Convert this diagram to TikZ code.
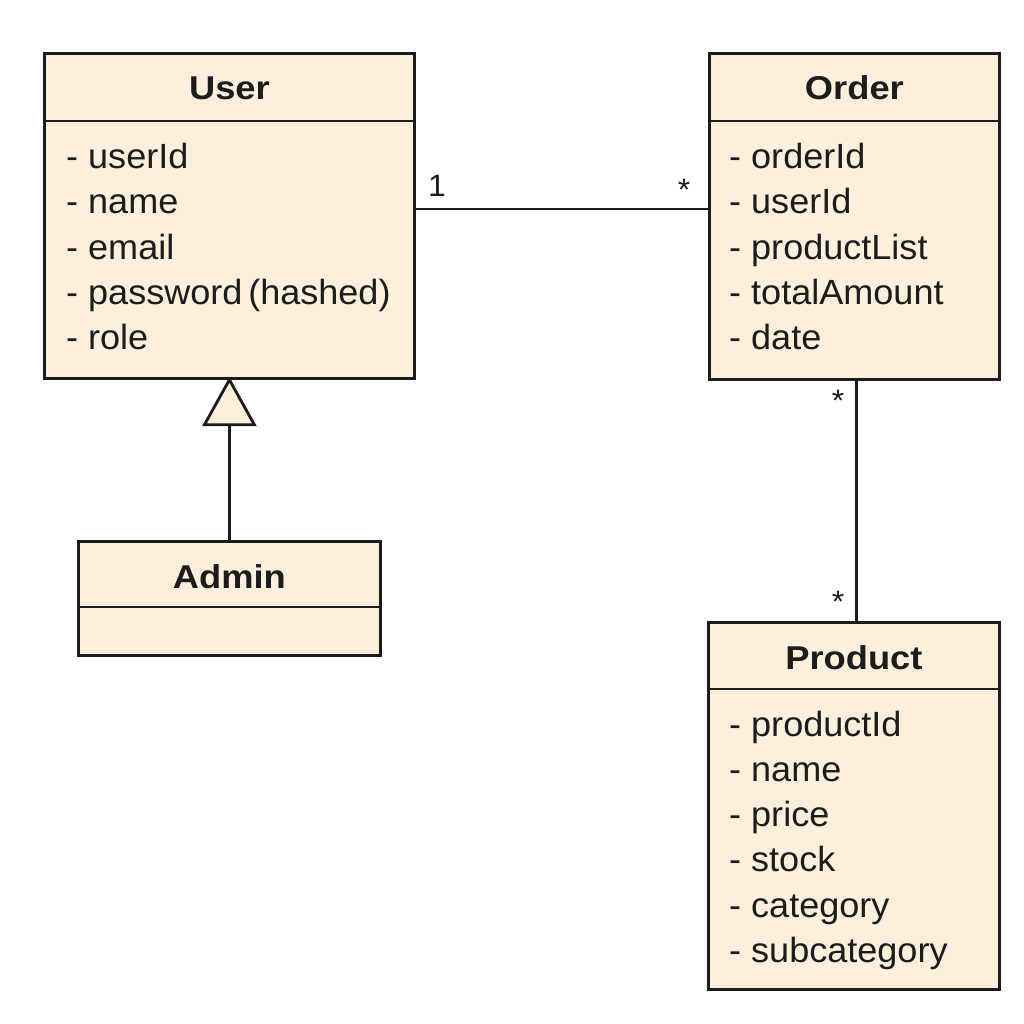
\documentclass[tikz,border=0pt]{standalone}
\usepackage{fontspec}
\setmainfont{Liberation Sans}[FakeStretch=1.03]
\newfontfamily\hdrfont{Liberation Sans}[FakeStretch=1.1]
\usetikzlibrary{calc}
\definecolor{cream}{HTML}{FCEFDC}
\definecolor{ink}{HTML}{1C1C1C}
\begin{document}
\begin{tikzpicture}[x=1pt,y=-1pt,
  umlbox/.style={draw=ink, line width=2.8pt, fill=cream, anchor=north west, inner sep=0pt},
  sepline/.style={draw=ink, line width=2.8pt},
  conn/.style={draw=ink, line width=2.8pt},
  hdr/.style={anchor=base, inner sep=0pt, text=ink, font=\hdrfont\bfseries\fontsize{33}{40}\selectfont},
  attr/.style={anchor=base west, inner sep=0pt, text=ink, font=\fontsize{35}{42}\selectfont},
  mult/.style={inner sep=0pt, text=ink, font=\fontsize{31}{36}\selectfont}]
\useasboundingbox[fill=white] (0,0) rectangle (1024,1024);

% User
\node[umlbox, minimum width=370pt, minimum height=325pt] (user) at (43,52) {};
\draw[sepline] ($(user.north west)+(0,69)$) -- ($(user.north east)+(0,69)$);
\node[hdr] (userh) at ($(user.north)+(0,48)$) {User};
\node[attr] (u1) at (66,169) {- userId};
\node[attr] (u2) at (66,214) {- name};
\node[attr] (u3) at (66,259) {- email};
\node[attr] (u4) at (66,304) {- password\,(hashed)};
\node[attr] (u5) at (66,349) {- role};

% Order
\node[umlbox, minimum width=290pt, minimum height=326pt] (order) at (708,52) {};
\draw[sepline] ($(order.north west)+(0,69)$) -- ($(order.north east)+(0,69)$);
\node[hdr] (orderh) at ($(order.north)+(0,48)$) {Order};
\node[attr] (o1) at (729,169) {- orderId};
\node[attr] (o2) at (729,214) {- userId};
\node[attr] (o3) at (729,259) {- productList};
\node[attr] (o4) at (729,304) {- totalAmount};
\node[attr] (o5) at (729,349) {- date};

% Admin
\node[umlbox, minimum width=302pt, minimum height=114pt] (admin) at (77,540) {};
\draw[sepline] ($(admin.north west)+(0,67)$) -- ($(admin.north east)+(0,67)$);
\node[hdr] (adminh) at ($(admin.north)+(0,48)$) {Admin};

% Product
\node[umlbox, minimum width=291pt, minimum height=367pt] (product) at (707,621) {};
\draw[sepline] ($(product.north west)+(0,68)$) -- ($(product.north east)+(0,68)$);
\node[hdr] (producth) at ($(product.north)+(0,48)$) {Product};
\node[attr] (p1) at (729,736) {- productId};
\node[attr] (p2) at (729,781) {- name};
\node[attr] (p3) at (729,826) {- price};
\node[attr] (p4) at (729,871) {- stock};
\node[attr] (p5) at (729,917) {- category};
\node[attr] (p6) at (729,962) {- subcategory};

% Association User -- Order
\coordinate (ua) at ($(user.north east)+(0,157)$);
\coordinate (oa) at ($(order.north west)+(0,157)$);
\draw[conn] (ua) -- (oa);
\node[mult] (m1) at (437,186) {1};
\node[mult] (m2) at (684,190) {*};

% Inheritance Admin -> User
\coordinate (triL) at ($(user.south)+(-25,45)$);
\coordinate (triR) at ($(user.south)+(25,45)$);
\coordinate (triB) at ($(user.south)+(0,45)$);
\draw[conn, fill=cream, line join=miter] (user.south) -- (triL) -- (triR) -- cycle;
\draw[conn] (admin.north) -- (triB);

% Association Order -- Product
\coordinate (os) at ($(order.south)+(2,0)$);
\draw[conn] (os) -- (os |- product.north);
\node[mult] (m3) at (838,401) {*};
\node[mult] (m4) at (838,602) {*};
\end{tikzpicture}
\end{document}
